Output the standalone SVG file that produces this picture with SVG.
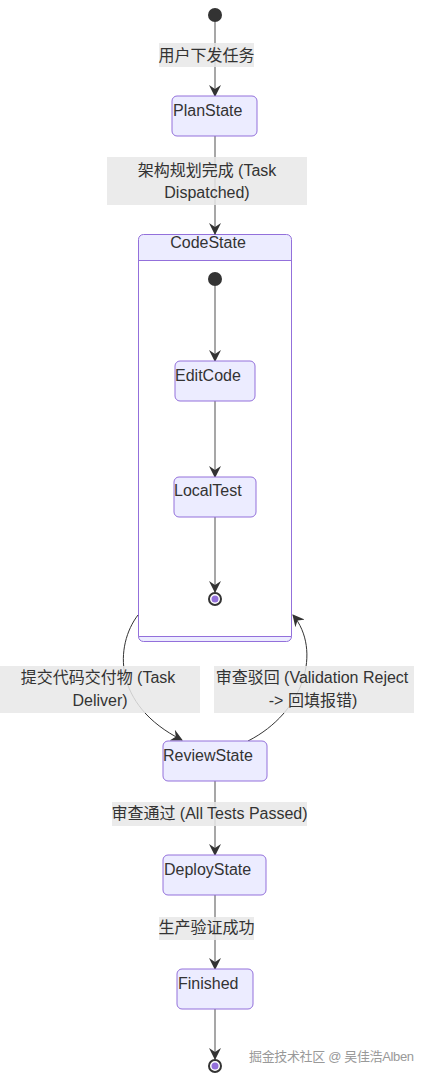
<svg xmlns="http://www.w3.org/2000/svg" width="430" height="1082" viewBox="0 0 430 1082">
<style>
  .node rect.box { fill: #ECECFF; stroke: #9370DB; stroke-width: 1; }
  .node text, .label text { font-family: "Liberation Sans", Arial, "Noto Sans CJK SC", sans-serif; font-size: 16px; fill: #333; }
  .label rect { fill: #e8e8e8; fill-opacity: 0.85; }
  .edge { fill: none; stroke: #8a8a8a; stroke-width: 1.5; }
  .curve { fill: none; stroke: #333; stroke-width: 1; }
  .start { fill: #333; }
  .endo { fill: #fff; stroke: #333; stroke-width: 2; }
  .endi { fill: #9370DB; }
</style>
<defs>
  <marker id="arrow" viewBox="0 0 12 12" refX="11" refY="6" markerWidth="12" markerHeight="12" markerUnits="userSpaceOnUse" orient="auto">
    <path d="M0,0 L12,6 L0,12 L4,6 z" fill="#333"/>
  </marker>
</defs>
<rect width="430" height="1082" fill="#fff"/>

<g class="node" id="CodeState">
  <rect x="138.5" y="234.5" width="153" height="407" rx="5" fill="#ECECFF" stroke="#9370DB"/>
  <rect x="139" y="261" width="152" height="375" fill="#fff"/>
  <line x1="138.5" y1="260.5" x2="291.5" y2="260.5" stroke="#9370DB"/>
  <line x1="138.5" y1="636.5" x2="291.5" y2="636.5" stroke="#9370DB"/>
  <text x="208" y="248" text-anchor="middle">CodeState</text>
</g>

<g id="connectors">
  <line class="edge" x1="215" y1="22" x2="215" y2="96" marker-end="url(#arrow)"/>
  <line class="edge" x1="215" y1="136" x2="215" y2="234" marker-end="url(#arrow)"/>
  <line class="edge" x1="215" y1="286" x2="215" y2="361" marker-end="url(#arrow)"/>
  <line class="edge" x1="215" y1="401" x2="215" y2="477" marker-end="url(#arrow)"/>
  <line class="edge" x1="215" y1="517" x2="215" y2="592" marker-end="url(#arrow)"/>
  <path class="curve" d="M138,615 C115,645 112,705 182,740" marker-end="url(#arrow)"/>
  <path class="curve" d="M248,741 C305,712 322,650 293,615" marker-end="url(#arrow)"/>
  <line class="edge" x1="215" y1="781" x2="215" y2="855" marker-end="url(#arrow)"/>
  <line class="edge" x1="215" y1="895" x2="215" y2="969" marker-end="url(#arrow)"/>
  <line class="edge" x1="215" y1="1009" x2="215" y2="1059" marker-end="url(#arrow)"/>
</g>

<g id="labels">
  <g class="label" id="l1"><rect x="159" y="43" width="95" height="24"/><text x="206.5" y="61" text-anchor="middle">用户下发任务</text></g>
  <g class="label" id="l2"><rect x="107" y="157" width="200" height="48"/><text x="207" y="176" text-anchor="middle">架构规划完成 (Task</text><text x="207" y="198" text-anchor="middle">Dispatched)</text></g>
  <g class="label" id="l3"><rect x="0" y="666" width="200" height="47"/><text x="98" y="683" text-anchor="middle">提交代码交付物 (Task</text><text x="100" y="706" text-anchor="middle">Deliver)</text></g>
  <g class="label" id="l4"><rect x="214" y="666" width="200" height="47"/><text x="312" y="683" text-anchor="middle">审查驳回 (Validation Reject</text><text x="313" y="706" text-anchor="middle">-&gt; 回填报错)</text></g>
  <g class="label" id="l5"><rect x="112" y="802" width="195" height="24"/><text x="209.5" y="819" text-anchor="middle">审查通过 (All Tests Passed)</text></g>
  <g class="label" id="l6"><rect x="159" y="917" width="95" height="23"/><text x="206.5" y="933" text-anchor="middle">生产验证成功</text></g>
</g>

<g id="start"><circle class="start" cx="215" cy="15" r="7"/></g>

<g class="node" id="PlanState"><rect class="box" x="172" y="96" width="85" height="40" rx="5"/><text x="173" y="116">PlanState</text></g>

<g id="innerStart"><circle class="start" cx="215" cy="279" r="7"/></g>
<g class="node" id="EditCode"><rect class="box" x="175" y="361" width="80" height="40" rx="5"/><text x="175" y="381">EditCode</text></g>
<g class="node" id="LocalTest"><rect class="box" x="174" y="477" width="82" height="40" rx="5"/><text x="174" y="496">LocalTest</text></g>
<g id="innerEnd"><circle class="endo" cx="215" cy="599" r="6"/><circle class="endi" cx="215" cy="599" r="3.5"/></g>

<g class="node" id="ReviewState"><rect class="box" x="163" y="741" width="104" height="40" rx="5"/><text x="163" y="761">ReviewState</text></g>
<g class="node" id="DeployState"><rect class="box" x="163" y="855" width="103" height="40" rx="5"/><text x="164" y="875">DeployState</text></g>
<g class="node" id="Finished"><rect class="box" x="177" y="969" width="76" height="40" rx="5"/><text x="178" y="989">Finished</text></g>
<g id="end"><circle class="endo" cx="215" cy="1066" r="6"/><circle class="endi" cx="215" cy="1066" r="3.5"/></g>

<text x="249" y="1061" font-family="'Liberation Sans', Arial, 'Noto Sans CJK SC', sans-serif" font-size="13" fill="#999" textLength="165">掘金技术社区 @ 吴佳浩Alben</text>
</svg>
